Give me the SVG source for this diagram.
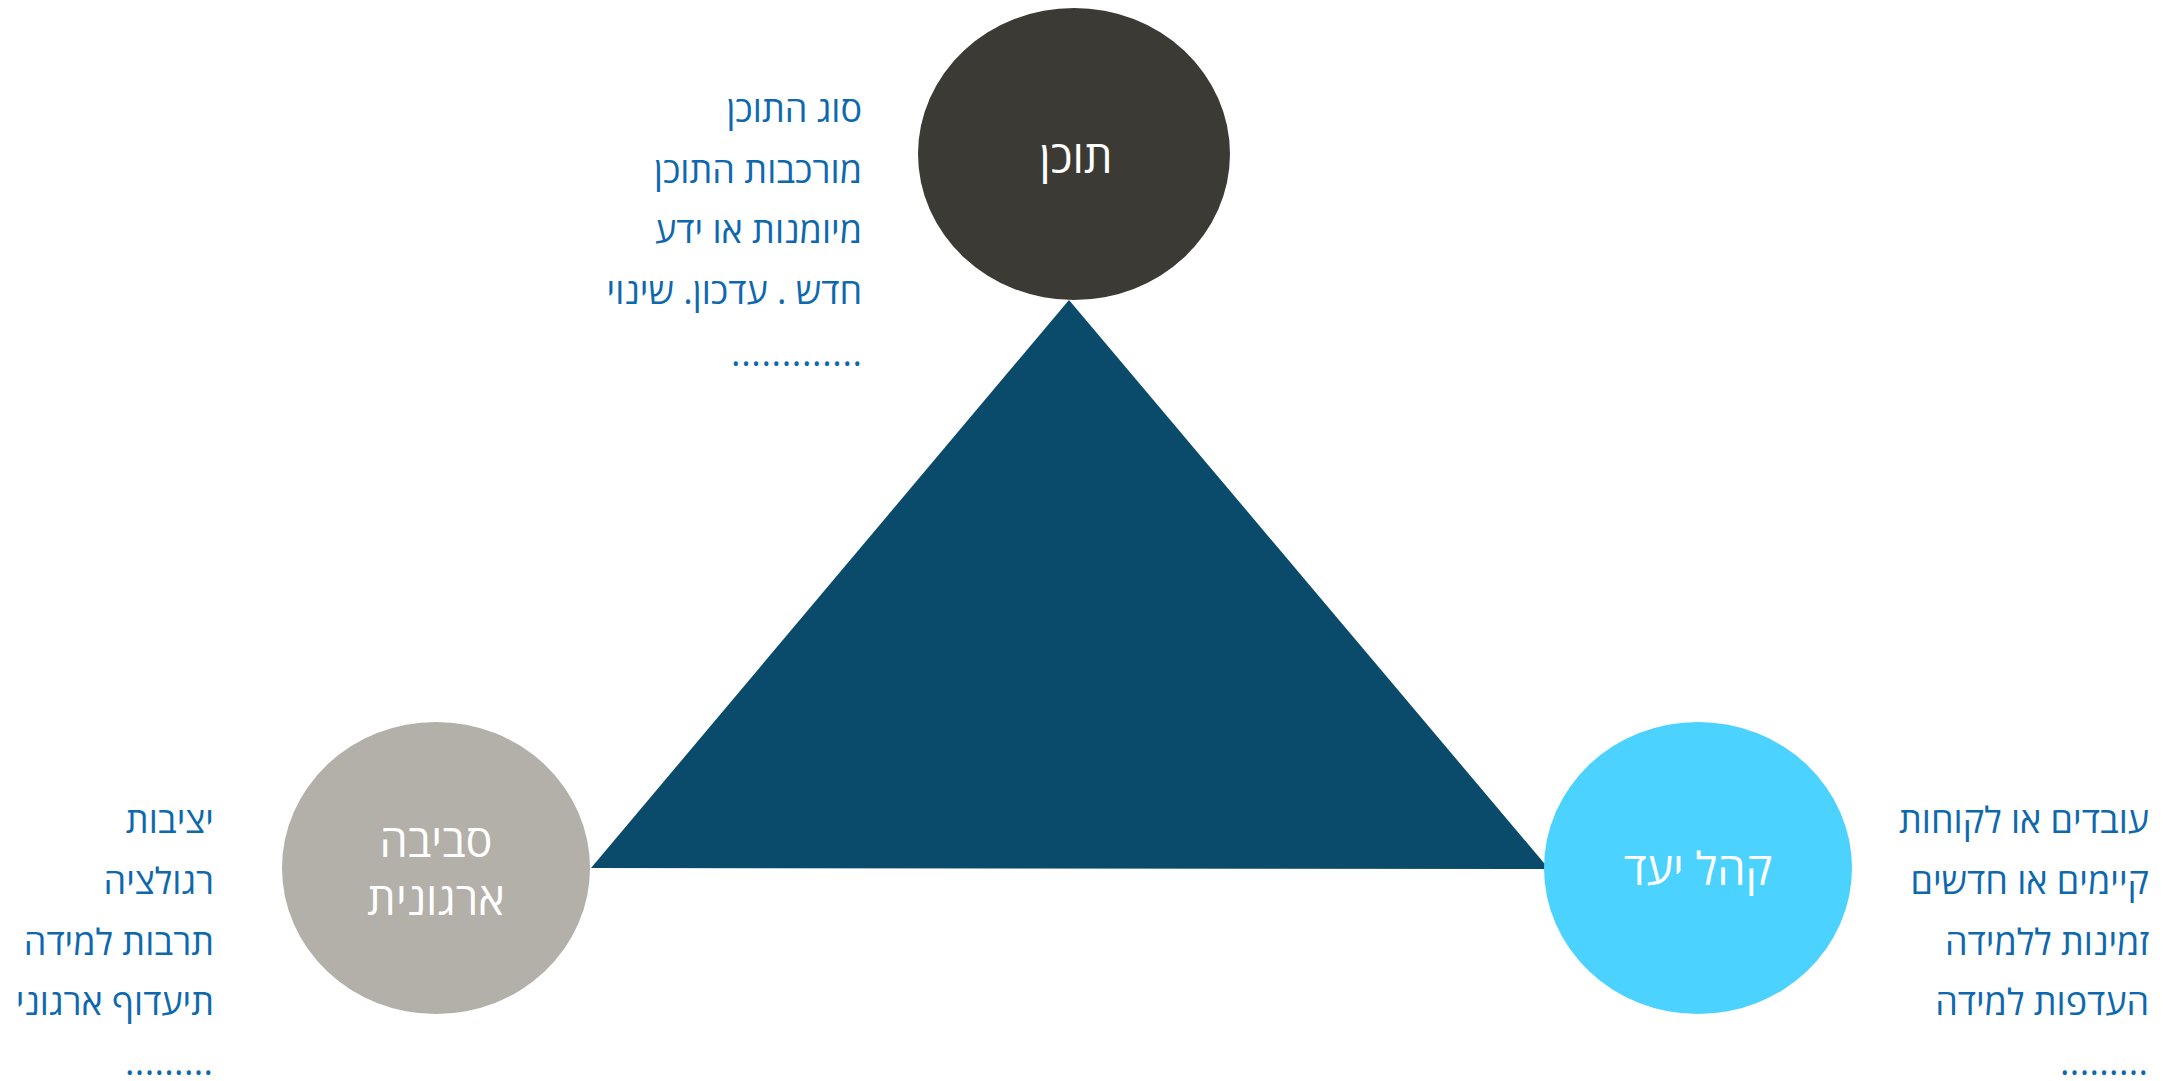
<svg xmlns="http://www.w3.org/2000/svg" width="2181" height="1081" viewBox="0 0 2181 1081">
<style>
.list{font-family:"Open Sans","Liberation Sans",sans-serif;font-size:36px;font-weight:500;fill:#0E68AE;}
.lbl{font-family:"Open Sans","Liberation Sans",sans-serif;font-size:45px;fill:#FFFFFF;text-anchor:middle;}
</style>
<rect width="2181" height="1081" fill="#FFFFFF"/>
<g id="connectors">
<polygon points="1069,300 591,868 1549,869" fill="#0A4A6A"/>
</g>
<g id="node-content">
<ellipse cx="1074" cy="154" rx="156" ry="146" fill="#3C3A35"/>
<text class="lbl" x="1076" y="173" direction="rtl">תוכן</text>
</g>
<g id="node-org">
<ellipse cx="436" cy="868" rx="154" ry="146" fill="#B3AFA9"/>
<text class="lbl" x="436" y="857" direction="rtl">סביבה</text>
<text class="lbl" x="436" y="915" direction="rtl">ארגונית</text>
</g>
<g id="node-audience">
<ellipse cx="1698" cy="868" rx="154" ry="146" fill="#4BD2FF"/>
<text class="lbl" x="1698" y="885" direction="rtl">קהל יעד</text>
</g>
<g id="list-content" class="list">
<text x="862" y="122" direction="rtl" text-anchor="start">סוג התוכן</text>
<text x="862" y="183" direction="rtl" text-anchor="start">מורכבות התוכן</text>
<text x="862" y="243" direction="rtl" text-anchor="start">מיומנות או ידע</text>
<text x="862" y="304" direction="rtl" text-anchor="start">חדש . עדכון. שינוי</text>
<text x="731" y="366" textLength="131" lengthAdjust="spacing">.............</text>
</g>
<g id="list-org" class="list">
<text x="214" y="833" direction="rtl" text-anchor="start">יציבות</text>
<text x="214" y="894" direction="rtl" text-anchor="start">רגולציה</text>
<text x="214" y="955" direction="rtl" text-anchor="start">תרבות למידה</text>
<text x="214" y="1015" direction="rtl" text-anchor="start">תיעדוף ארגוני</text>
<text x="125" y="1075" textLength="88" lengthAdjust="spacing">.........</text>
</g>
<g id="list-audience" class="list">
<text x="2149" y="833" direction="rtl" text-anchor="start">עובדים או לקוחות</text>
<text x="2149" y="894" direction="rtl" text-anchor="start">קיימים או חדשים</text>
<text x="2149" y="955" direction="rtl" text-anchor="start">זמינות ללמידה</text>
<text x="2149" y="1015" direction="rtl" text-anchor="start">העדפות למידה</text>
<text x="2060" y="1075" textLength="88" lengthAdjust="spacing">.........</text>
</g>
</svg>
